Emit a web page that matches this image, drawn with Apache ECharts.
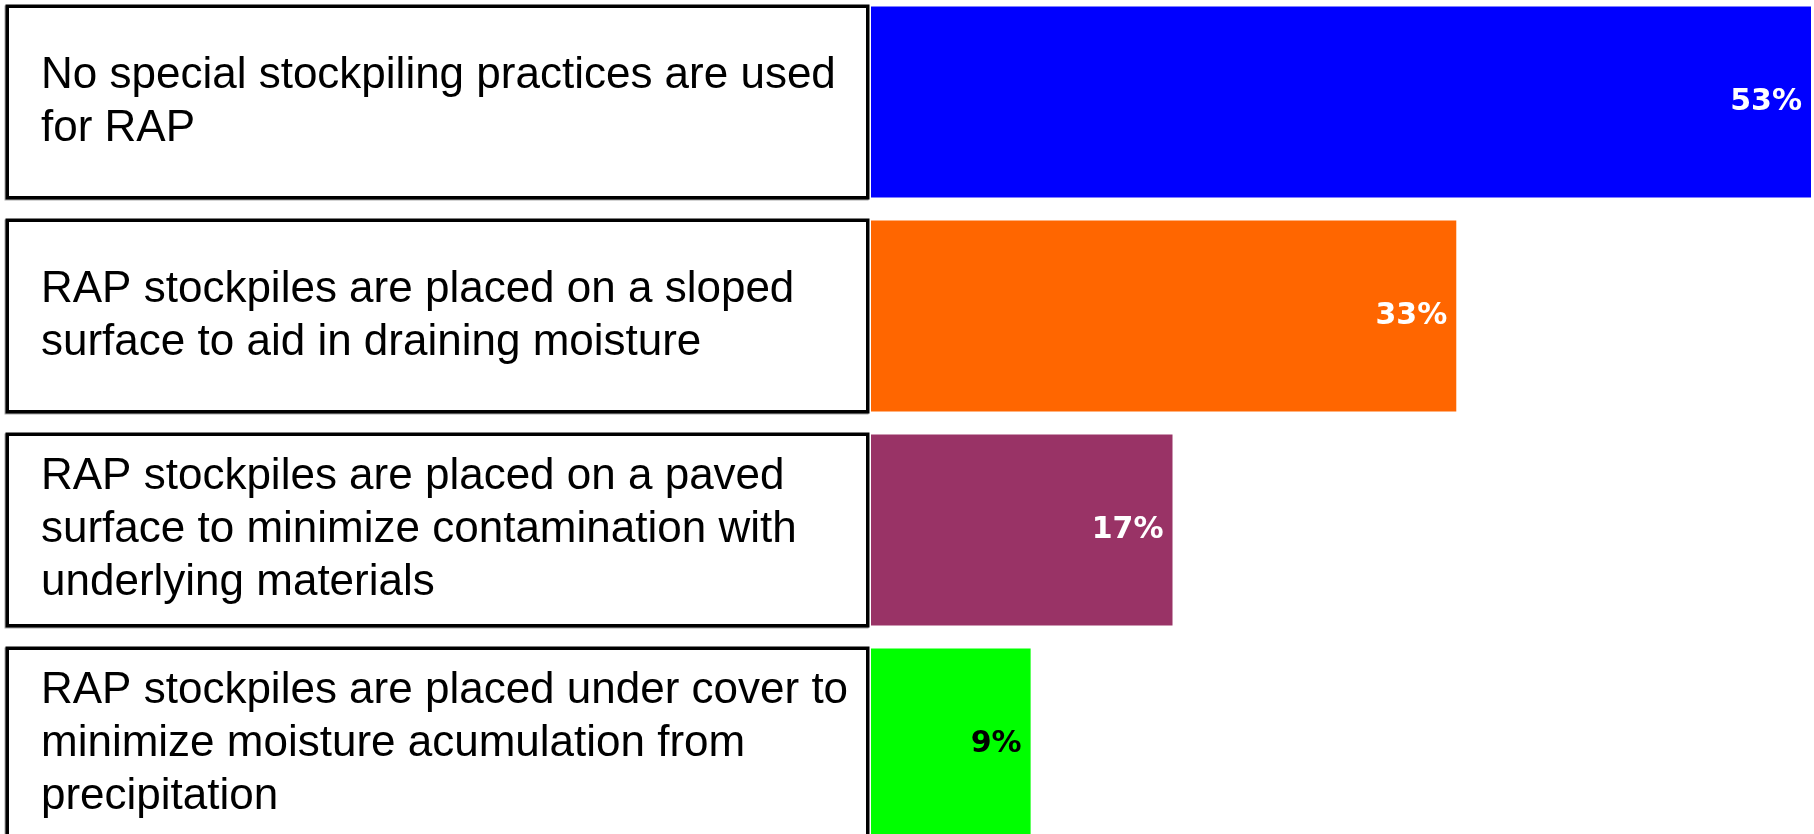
<!DOCTYPE html>
<html>
<head>
<meta charset="utf-8">
<script src="https://cdn.jsdelivr.net/npm/echarts@6/dist/echarts.min.js"></script>
<style>
  html, body { margin: 0; padding: 0; background: #ffffff; }
  #chart { width: 1814px; height: 834px; }
</style>
</head>
<body>
<div id="chart"></div>
<script>
// Stockpiling practices for RAP (share of respondents, %)
const categories = [
  'No special stockpiling practices are used\nfor RAP',
  'RAP stockpiles are placed on a sloped\nsurface to aid in draining moisture',
  'RAP stockpiles are placed on a paved\nsurface to minimize contamination with\nunderlying materials',
  'RAP stockpiles are placed under cover to\nminimize moisture acumulation from\nprecipitation'
];
const values = [53, 33, 17, 9];
const barColors = ['#0000ff', '#ff6600', '#993366', '#00ff00'];
const labelColors = ['#ffffff', '#ffffff', '#ffffff', '#000000'];

const chart = echarts.init(document.getElementById('chart'), null, { renderer: 'canvas' });

chart.setOption({
  backgroundColor: '#ffffff',
  animation: false,
  grid: {
    left: 871, right: 3, top: -5, height: 856,
    containLabel: false,
    outerBoundsMode: 'none'
  },
  xAxis: {
    type: 'value', min: 0, max: 53,
    show: false
  },
  yAxis: {
    type: 'category',
    inverse: true,
    data: categories,
    axisLine: { show: false },
    axisTick: { show: false },
    splitLine: { show: false },
    axisLabel: {
      interval: 0,
      margin: 862,
      align: 'left',
      verticalAlign: 'middle',
      width: 825,
      height: 188,
      padding: [0, 0, 0, 32],
      backgroundColor: '#ffffff',
      borderColor: '#000000',
      borderWidth: 3.5,
      shadowColor: 'rgba(0,0,0,0.35)',
      shadowOffsetX: -1,
      shadowOffsetY: 1,
      shadowBlur: 0,
      fontFamily: 'Liberation Sans, Arial, sans-serif',
      fontSize: 44,
      lineHeight: 53,
      color: '#000000'
    }
  },
  series: [{
    type: 'bar',
    barWidth: 191,
    data: values.map((v, i) => ({
      value: v,
      itemStyle: { color: barColors[i] },
      label: { color: labelColors[i] }
    })),
    label: {
      show: true,
      position: 'insideRight',
      distance: 9,
      formatter: '{c}%',
      fontFamily: 'DejaVu Sans, sans-serif',
      fontWeight: 'bold',
      fontSize: 30
    }
  }]
});
</script>
</body>
</html>
